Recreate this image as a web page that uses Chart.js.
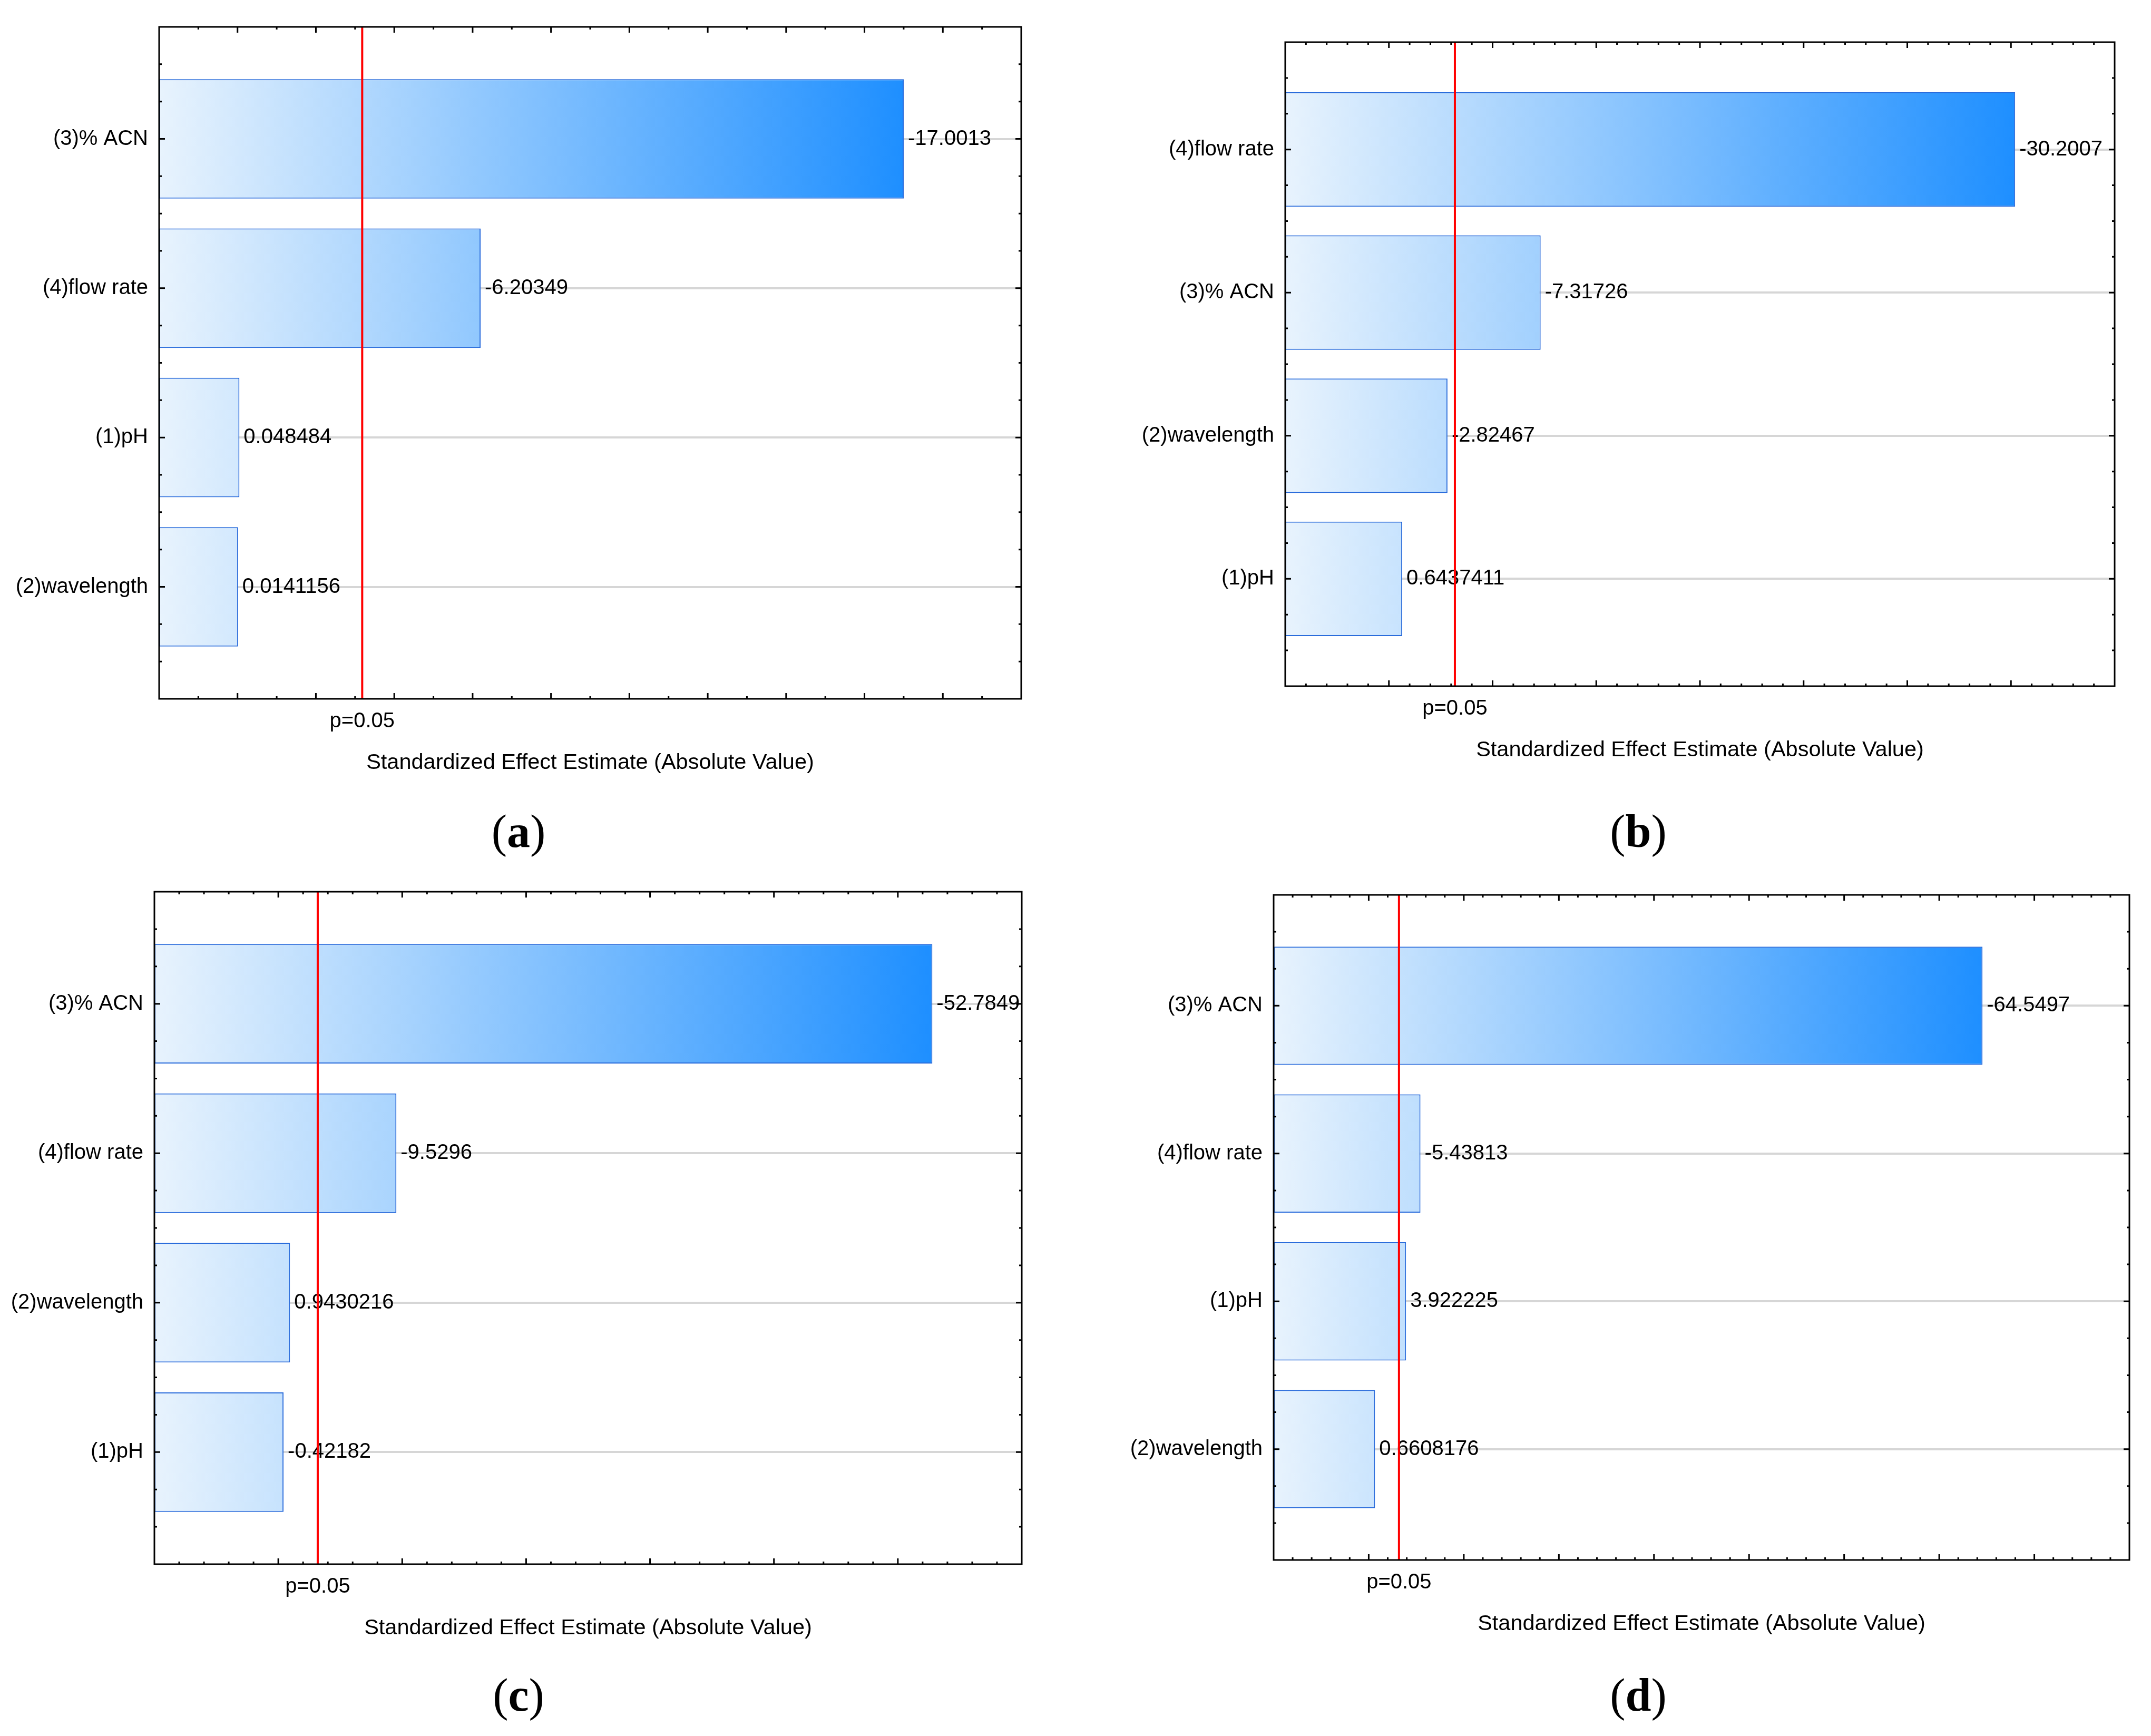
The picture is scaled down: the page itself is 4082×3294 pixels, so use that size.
<!DOCTYPE html>
<html>
<head>
<meta charset="utf-8">
<script src="https://cdn.jsdelivr.net/npm/chart.js@4.4.1/dist/chart.umd.min.js"></script>
<style>
  html, body { margin: 0; padding: 0; background: #fff; }
  body { width: 4082px; height: 3294px; position: relative; overflow: hidden; }
  canvas { position: absolute; }
</style>
</head>
<body>
<canvas id="chartA" width="2041" height="1647" style="left:0;top:0;width:2041px;height:1647px"></canvas>
<canvas id="chartB" width="2041" height="1647" style="left:2041px;top:0;width:2041px;height:1647px"></canvas>
<canvas id="chartC" width="2041" height="1647" style="left:0;top:1647px;width:2041px;height:1647px"></canvas>
<canvas id="chartD" width="2041" height="1647" style="left:2041px;top:1647px;width:2041px;height:1647px"></canvas>
<script>
// --- data (Pareto charts of standardized effects) ---
const factorsA = ['(3)% ACN', '(4)flow rate', '(1)pH', '(2)wavelength'];
const effectsA = [-17.0013, -6.20349, 0.048484, 0.0141156];

const factorsB = ['(4)flow rate', '(3)% ACN', '(2)wavelength', '(1)pH'];
const effectsB = [-30.2007, -7.31726, -2.82467, 0.6437411];

const factorsC = ['(3)% ACN', '(4)flow rate', '(2)wavelength', '(1)pH'];
const effectsC = [-52.7849, -9.5296, 0.9430216, -0.42182];

const factorsD = ['(3)% ACN', '(4)flow rate', '(1)pH', '(2)wavelength'];
const effectsD = [-64.5497, -5.43813, 3.922225, 0.6608176];

// x axis range [min, max] and tick steps [minor, major]
const xRangeA = [-2, 20],  xStepsA = [1, 2];
const xRangeB = [-5, 35],  xStepsB = [1, 5];
const xRangeC = [-10, 60], xStepsC = [2, 10];
const xRangeD = [-10, 80], xStepsD = [2, 10];

const tCrit = 3.182;   // p = 0.05
const pLabel = 'p=0.05';
const xTitle = 'Standardized Effect Estimate (Absolute Value)';

// --- layout (page pixels) ---
const PW = 2041, PH = 1647;
const FONT = '"Liberation Sans", Arial, sans-serif';
const SERIF = '"Liberation Serif", "Times New Roman", serif';

function isMult(v, m) {
  return Math.abs(v / m - Math.round(v / m)) < 1e-6;
}

function barGradient(c) {
  const chart = c.chart;
  const a = chart.chartArea;
  if (!a) return '#9ccbfb';
  const maxV = Math.max(...chart.data.datasets[0].data.map(d => d.x));
  const x1 = chart.scales.x.getPixelForValue(maxV);
  const g = chart.ctx.createLinearGradient(a.left, 0, x1, 0);
  g.addColorStop(0, '#e8f3fd');
  g.addColorStop(1, '#1e8fff');
  return g;
}

const paretoDecor = {
  id: 'paretoDecor',
  afterDatasetsDraw(chart, args, o) {
    const {ctx, chartArea: a} = chart;
    const xs = chart.scales.x, ys = chart.scales.y;
    ctx.save();

    // value labels
    ctx.font = '40px ' + FONT;
    ctx.fillStyle = '#000';
    ctx.textAlign = 'left';
    ctx.textBaseline = 'middle';
    o.effects.forEach((v, i) => {
      ctx.fillText(String(v), xs.getPixelForValue(Math.abs(v)) + 8, ys.getPixelForValue(i));
    });

    // significance line
    const rx = xs.getPixelForValue(o.tCrit);
    ctx.strokeStyle = '#ff0000';
    ctx.lineWidth = 4;
    ctx.beginPath();
    ctx.moveTo(rx, a.top);
    ctx.lineTo(rx, a.bottom);
    ctx.stroke();

    // frame
    ctx.strokeStyle = '#000';
    ctx.lineWidth = 3;
    ctx.strokeRect(a.left, a.top, a.right - a.left, a.bottom - a.top);

    // inward ticks on all four sides
    ctx.beginPath();
    xs.ticks.forEach(t => {
      const px = xs.getPixelForValue(t.value);
      if (px <= a.left + 2 || px >= a.right - 2) return;
      const len = isMult(t.value, o.major) ? 11 : 5;
      ctx.moveTo(px, a.bottom); ctx.lineTo(px, a.bottom - len);
      ctx.moveTo(px, a.top); ctx.lineTo(px, a.top + len);
    });
    for (let v = ys.min; v <= ys.max + 1e-9; v += 0.25) {
      const py = ys.getPixelForValue(v);
      if (py <= a.top + 2 || py >= a.bottom - 2) continue;
      const len = isMult(v, 1) ? 11 : 5;
      ctx.moveTo(a.left, py); ctx.lineTo(a.left + len, py);
      ctx.moveTo(a.right, py); ctx.lineTo(a.right - len, py);
    }
    ctx.stroke();

    // p label and axis title
    ctx.textAlign = 'center';
    ctx.fillText(pLabel, rx, a.bottom + 43);
    ctx.font = '41.5px ' + FONT;
    ctx.fillText(xTitle, (a.left + a.right) / 2, a.bottom + 122);

    // caption "(a)" with bold letter
    ctx.textAlign = 'left';
    ctx.textBaseline = 'alphabetic';
    const reg = '88px ' + SERIF, bold = 'bold 88px ' + SERIF;
    ctx.font = reg; const w1 = ctx.measureText('(').width;
    ctx.font = bold; const w2 = ctx.measureText(o.caption).width;
    ctx.font = reg; const w3 = ctx.measureText(')').width;
    let cx = o.capX - (w1 + w2 + w3) / 2;
    ctx.font = reg; ctx.fillText('(', cx, o.capY); cx += w1;
    ctx.font = bold; ctx.fillText(o.caption, cx, o.capY); cx += w2;
    ctx.font = reg; ctx.fillText(')', cx, o.capY);

    ctx.restore();
  }
};

// origin: canvas position on page; box: plot area [left, top, right, bottom] on page; cap: caption centre/baseline on page
function makePareto(id, origin, box, factors, effects, xRange, xSteps, caption, cap) {
  return new Chart(document.getElementById(id), {
    type: 'bar',
    data: {
      datasets: [{
        data: effects.map((v, i) => ({x: Math.abs(v), y: i})),
        base: xRange[0],
        backgroundColor: barGradient,
        borderColor: '#2a6cdb',
        borderWidth: 2,
        borderSkipped: false,
        barPercentage: 0.8,
        categoryPercentage: 1
      }]
    },
    options: {
      indexAxis: 'y',
      responsive: false,
      animation: false,
      devicePixelRatio: 1,
      layout: {
        padding: {
          left: 0,
          top: box[1] - origin[1],
          right: origin[0] + PW - box[2],
          bottom: origin[1] + PH - box[3]
        }
      },
      plugins: {
        legend: {display: false},
        tooltip: {enabled: false},
        paretoDecor: {
          effects: effects,
          tCrit: tCrit,
          major: xSteps[1],
          caption: caption,
          capX: cap[0] - origin[0],
          capY: cap[1] - origin[1]
        }
      },
      scales: {
        x: {
          type: 'linear',
          min: xRange[0],
          max: xRange[1],
          offset: false,
          ticks: {display: false, stepSize: xSteps[0]},
          grid: {display: false, offset: false},
          border: {display: false},
          afterFit: s => { s.height = 0; }
        },
        y: {
          type: 'linear',
          min: -0.75,
          max: factors.length - 0.25,
          reverse: true,
          offset: false,
          afterFit: s => { s.width = box[0] - origin[0]; },
          ticks: {
            stepSize: 1,
            includeBounds: false,
            autoSkip: false,
            padding: 21,
            color: '#000',
            font: {size: 40, family: FONT},
            callback: v => factors[Math.round(v)]
          },
          grid: {
            offset: false,
            drawTicks: false,
            color: '#d6d6d6',
            lineWidth: 4
          },
          border: {display: false}
        }
      }
    },
    plugins: [paretoDecor]
  });
}

makePareto('chartA', [0, 0],       [302, 51, 1938, 1326],    factorsA, effectsA, xRangeA, xStepsA, 'a', [984, 1607]);
makePareto('chartB', [2041, 0],    [2439, 80, 4013, 1302],   factorsB, effectsB, xRangeB, xStepsB, 'b', [3109, 1607]);
makePareto('chartC', [0, 1647],    [293, 1689, 1939, 2968],  factorsC, effectsC, xRangeC, xStepsC, 'c', [984, 3246]);
makePareto('chartD', [2041, 1647], [2417, 1698, 4041, 2960], factorsD, effectsD, xRangeD, xStepsD, 'd', [3109, 3246]);
</script>
</body>
</html>
